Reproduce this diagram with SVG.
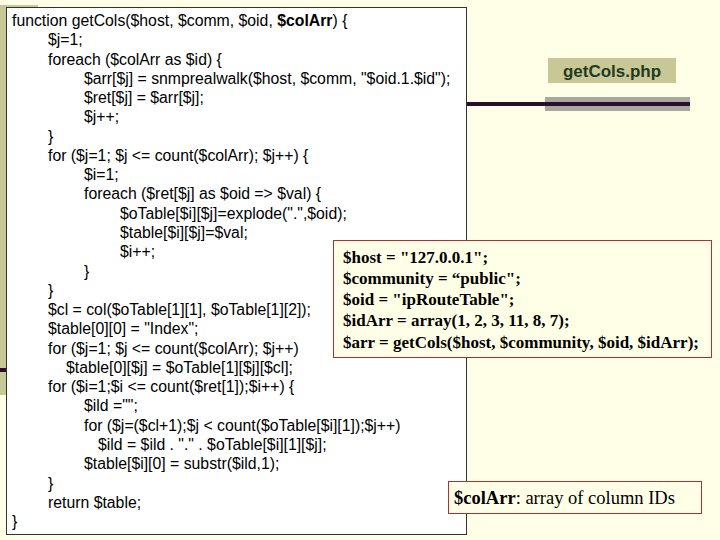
<svg xmlns="http://www.w3.org/2000/svg" width="720" height="540" viewBox="0 0 720 540">
<style>
.c{font-family:"Liberation Sans",Arial,sans-serif;font-size:15.8px;fill:#000}
.t{font-family:"Liberation Serif","Times New Roman",serif;font-size:17px;font-weight:bold;fill:#000}
</style>
<rect width="720" height="540" fill="#FFFFE8"/>
<rect x="0" y="5" width="38" height="390" fill="#C8C896"/>
<rect x="0" y="368" width="8" height="4" fill="#2A0F2A"/>
<g id="decor">
<rect x="545" y="97" width="145" height="14" fill="#A8A8A0"/>
<rect x="467" y="102" width="223" height="4" fill="#2A0F2A"/>
</g>
<g id="title">
<rect x="548" y="58" width="128" height="25" fill="#C8C896"/>
<text x="612" y="77" text-anchor="middle" style="font-family:'Liberation Sans',Arial,sans-serif;font-size:17px;font-weight:bold;fill:#1F3A1F">getCols.php</text>
</g>
<g id="code">
<rect x="6.5" y="7.5" width="460" height="527" fill="#fff" stroke="#333" stroke-width="1"/>
<text class="c" x="12" y="26">function getCols($host, $comm, $oid, <tspan font-weight="bold">$colArr</tspan>) {</text>
<text class="c" x="48" y="45.3">$j=1;</text>
<text class="c" x="48" y="64.5">foreach ($colArr as $id) {</text>
<text class="c" x="84" y="83.8">$arr[$j] = snmprealwalk($host, $comm, "$oid.1.$id");</text>
<text class="c" x="84" y="103.1">$ret[$j] = $arr[$j];</text>
<text class="c" x="84" y="122.3">$j++;</text>
<text class="c" x="48" y="141.6">}</text>
<text class="c" x="48" y="160.9">for ($j=1; $j &lt;= count($colArr); $j++) {</text>
<text class="c" x="84" y="180.2">$i=1;</text>
<text class="c" x="84" y="199.4">foreach ($ret[$j] as $oid =&gt; $val) {</text>
<text class="c" x="120" y="218.7">$oTable[$i][$j]=explode(".",$oid);</text>
<text class="c" x="120" y="238">$table[$i][$j]=$val;</text>
<text class="c" x="120" y="257.2">$i++;</text>
<text class="c" x="84" y="276.5">}</text>
<text class="c" x="48" y="295.8">}</text>
<text class="c" x="48" y="315">$cl = col($oTable[1][1], $oTable[1][2]);</text>
<text class="c" x="48" y="334.3">$table[0][0] = "Index";</text>
<text class="c" x="48" y="353.6">for ($j=1; $j &lt;= count($colArr); $j++)</text>
<text class="c" x="66" y="372.8">$table[0][$j] = $oTable[1][$j][$cl];</text>
<text class="c" x="48" y="392.1">for ($i=1;$i &lt;= count($ret[1]);$i++) {</text>
<text class="c" x="84" y="411.4">$ild ="";</text>
<text class="c" x="84" y="430.7">for ($j=($cl+1);$j &lt; count($oTable[$i][1]);$j++)</text>
<text class="c" x="98" y="449.9">$ild = $ild . "." . $oTable[$i][1][$j];</text>
<text class="c" x="84" y="469.2">$table[$i][0] = substr($ild,1);</text>
<text class="c" x="48" y="488.5">}</text>
<text class="c" x="48" y="507.7">return $table;</text>
<text class="c" x="12" y="527">}</text>
</g>
<g id="usage">
<rect x="333.5" y="240.5" width="378" height="117" fill="#FFFFE8" stroke="#B03030" stroke-width="1"/>
<text class="t" x="343" y="263">$host = "127.0.0.1";</text>
<text class="t" x="343" y="284">$community = “public";</text>
<text class="t" x="343" y="305">$oid = "ipRouteTable";</text>
<text class="t" x="343" y="326">$idArr = array(1, 2, 3, 11, 8, 7);</text>
<text class="t" x="343" y="348">$arr = getCols($host, $community, $oid, $idArr);</text>
</g>
<g id="note">
<rect x="448.5" y="481.5" width="253" height="32" fill="#FFFFE8" stroke="#B03030" stroke-width="1"/>
<text x="454" y="504" style="font-family:'Liberation Serif','Times New Roman',serif;font-size:18.5px;fill:#000"><tspan font-weight="bold">$colArr</tspan>: array of column IDs</text>
</g>
</svg>
